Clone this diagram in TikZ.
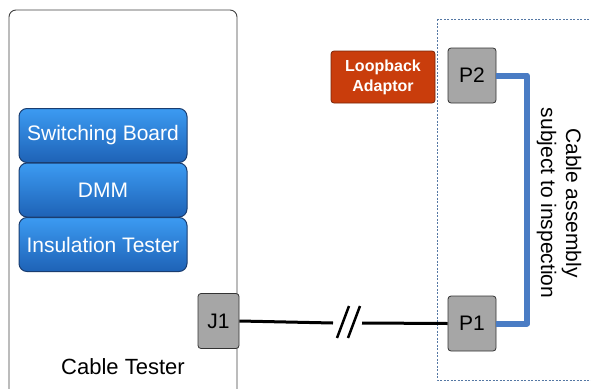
\documentclass[tikz,border=0pt]{standalone}
\usepackage{fontspec}
\setmainfont{Liberation Sans}
\definecolor{modtop}{HTML}{3C9BF2}
\definecolor{modbot}{HTML}{1E62B6}
\definecolor{modline}{HTML}{1A3D70}
\definecolor{portgray}{HTML}{A6A6A6}
\definecolor{loopred}{HTML}{C93D0C}
\definecolor{cableblue}{HTML}{4A7CC4}
\definecolor{dutline}{HTML}{5578A4}

\tikzset{
	module/.style={rounded corners=8pt,draw=modline,line width=1pt,top color=modtop,bottom color=modbot,
		minimum width=168pt,minimum height=54pt,inner sep=0pt,text=white,font=\fontsize{21}{25}\selectfont},
	port/.style={rounded corners=3pt,draw=black!80,fill=portgray,line width=0.8pt,
		minimum width=48pt,minimum height=55pt,inner sep=0pt,font=\fontsize{21}{25}\selectfont},
	adaptor/.style={rounded corners=3pt,draw=loopred!60!black,fill=loopred,line width=0.8pt,
		minimum width=104pt,minimum height=52pt,inner sep=0pt,align=center,text=white,
		font=\fontsize{16}{20}\selectfont\bfseries},
	wire/.style={line width=3pt,black},
	loopwire/.style={line width=6pt,cableblue,line join=round},
}

\begin{document}
\begin{tikzpicture}[x=1pt,y=-1pt]
	\useasboundingbox (0,0) rectangle (591,388);
	\clip (0,0) rectangle (591,388);

	% cable tester housing
	\draw[rounded corners=7pt,draw=black!75,line width=0.9pt] (9,10) rectangle (237,400);
	\node[font=\fontsize{22}{26}\selectfont] (tester) at (123,367) {Cable Tester};

	% modules inside the tester
	\node[module] (switch) at (103,135.5) {Switching Board};
	\node[module] (dmm) at (103,190) {DMM};
	\node[module] (insul) at (103,244.5) {Insulation Tester};

	% unit under test
	\draw[dutline,line width=0.8pt,dash pattern=on 2pt off 1.5pt] (437,19) rectangle (600,380);

	\node[port,minimum width=41pt] (j1) at (218.5,321) {J1};
	\node[port] (p1) at (472,323.5) {P1};
	\node[port] (p2) at (472,75.5) {P2};
	\node[adaptor] (loop) at (383,77) {Loopback\\Adaptor};

	\node[rotate=-90,align=center,font=\fontsize{21}{25}\selectfont] (dut) at (559,203)
		{Cable assembly\\subject to inspection};

	% cable with break
	\coordinate (brkl) at (333,323);
	\coordinate (brkr) at (362,323);
	\draw[wire] (j1.east) -- (brkl);
	\draw[wire] (brkr) -- (p1.west);
	\draw[line width=2.5pt] (337,338) -- (349,306);
	\draw[line width=2.5pt] (348,338) -- (360,306);

	% loop of the assembly
	\coordinate (turn) at (527,200);
	\draw[loopwire] (p2.east) -| (turn) |- (p1.east);
\end{tikzpicture}
\end{document}
